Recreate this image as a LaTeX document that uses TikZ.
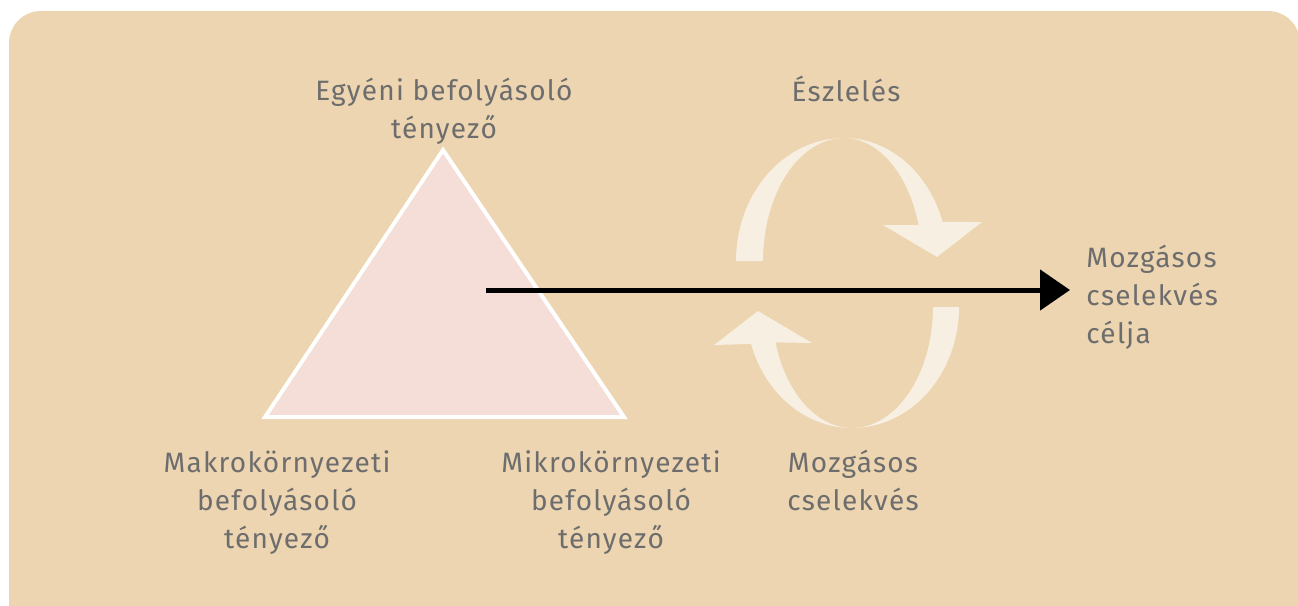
\documentclass[tikz,border=0pt]{standalone}
\usepackage{fontspec}
\setmainfont[LetterSpace=4.5]{Fira Sans}
\usetikzlibrary{arrows.meta}
\definecolor{bg}{HTML}{ECD5B0}
\definecolor{tri}{HTML}{F5DDD8}
\definecolor{cres}{HTML}{F8EFE3}
\definecolor{txt}{HTML}{6D6D6D}
\begin{document}
\begin{tikzpicture}[x=0.5pt,y=-0.5pt,
  lbl/.style={text=txt, font=\fontsize{14}{19}\selectfont, align=center, inner sep=0pt, anchor=base},
  tristyle/.style={fill=tri, draw=white, line width=2pt, line join=miter},
  cresc/.style={fill=cres, draw=none},
  mainarrow/.style={line width=2.5pt, -{Triangle[length=15pt,width=20pt]}, shorten >=8pt}]
\useasboundingbox (0,0) rectangle (1298,606);
\clip (0,0) rectangle (1298,606);
\fill[bg, rounded corners=16pt] (9,11) rectangle (1300,720);

% triangle
\coordinate (apex) at (443,150);
\coordinate (bl) at (265,417);
\coordinate (br) at (624,417);
\draw[tristyle] (apex) -- (bl) -- (br) -- cycle;

% upper circular arrow
\fill[cresc]
  plot[domain=180:90, samples=40, variable=\t] ({844+108*cos(\t)},{261-123*sin(\t)})
  -- plot[domain=90:18.5, samples=40, variable=\t] ({844+104*cos(\t)},{261-123*sin(\t)})
  -- (982,222) -- (937,257) -- (883,225)
  -- plot[domain=17:90, samples=40, variable=\t] ({844+78*cos(\t)},{261-123*sin(\t)})
  -- plot[domain=90:180, samples=40, variable=\t] ({844+81*cos(\t)},{261-123*sin(\t)})
  -- cycle;

% lower circular arrow
\fill[cresc]
  plot[domain=0:90, samples=40, variable=\t] ({852+107*cos(\t)},{307+121*sin(\t)})
  -- plot[domain=90:162.2, samples=40, variable=\t] ({852+106*cos(\t)},{307+121*sin(\t)})
  -- (714,345) -- (758,311) -- (812,343)
  -- plot[domain=163:90, samples=40, variable=\t] ({852+80*cos(\t)},{307+121*sin(\t)})
  -- plot[domain=90:0, samples=40, variable=\t] ({852+81*cos(\t)},{307+121*sin(\t)})
  -- cycle;

% labels (base anchor = baseline of last line)
\node[lbl] (egyeni) at (444,138) {Egyéni befolyásoló\\tényező};
\node[lbl] (eszl) at (846,101) {Észlelés};
\node[lbl, align=left, anchor=base west] (goal) at (1086,343) {Mozgásos\\cselekvés\\célja};
\node[lbl] (makro) at (277,548) {Makrokörnyezeti\\befolyásoló\\tényező};
\node[lbl] (mikro) at (611,548) {Mikrokörnyezeti\\befolyásoló\\tényező};
\node[lbl] (mozg) at (853,510) {Mozgásos\\cselekvés};

% main arrow
\coordinate (astart) at (486,290);
\draw[mainarrow] (astart) -- (astart -| goal.west);
\end{tikzpicture}
\end{document}
